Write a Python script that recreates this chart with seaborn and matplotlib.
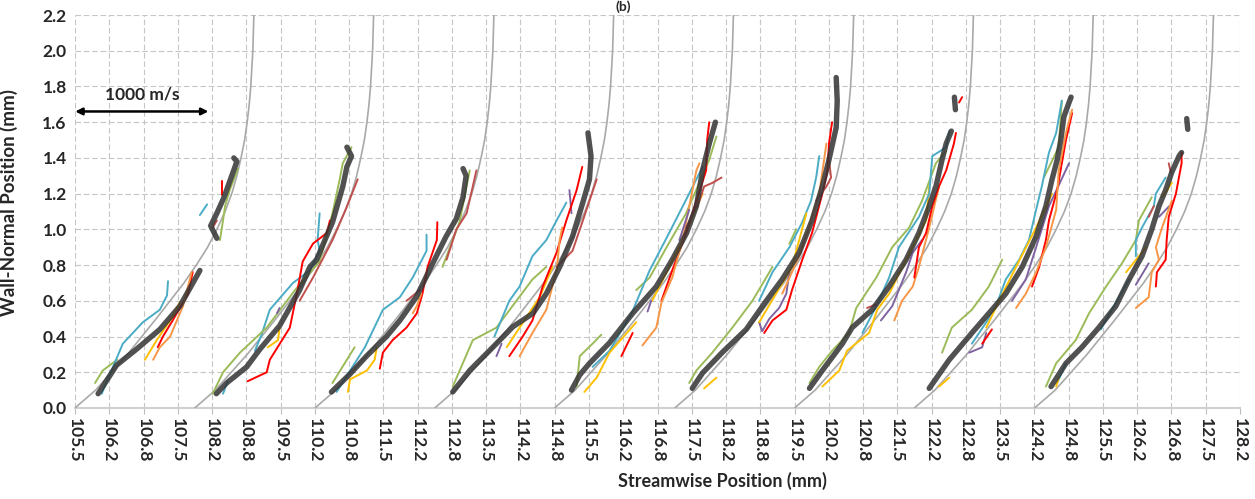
import numpy as np
import matplotlib
matplotlib.use("Agg")
import matplotlib.pyplot as plt
import seaborn as sns

# ---------------- data ----------------
# reference (gray) profile shape: offset from station base (mm) vs wall-normal (mm)
REF_Y = [0, 0.1, 0.3, 0.5, 0.7, 0.8, 0.9, 1.0, 1.1, 1.2, 1.3, 1.4, 1.5, 1.6, 1.7, 1.8, 2.0, 2.2]
REF_DX = [0, 0.40, 1.02, 1.58, 2.12, 2.36, 2.58, 2.76, 2.92, 3.05, 3.15, 3.23, 3.30, 3.35, 3.39, 3.42, 3.46, 3.48]
STATION_BASES = [105.5, 107.83, 110.17, 112.5, 114.83, 117.17, 119.5, 121.83, 124.17]

# mean (thick dark) profiles, each segment: (x list, y list)
MEAN_PROFILES = [
    ([105.95, 106.31, 106.70, 107.15, 107.54, 107.93], [0.08, 0.24, 0.33, 0.44, 0.57, 0.77]),
    ([108.26, 108.14, 108.26, 108.40, 108.55, 108.65, 108.59], [0.95, 1.02, 1.09, 1.18, 1.30, 1.38, 1.40]),
    ([108.25, 108.45, 108.84, 109.10, 109.48, 109.87, 110.07, 110.20, 110.51, 110.71, 110.79, 110.88, 110.79],
     [0.08, 0.14, 0.23, 0.33, 0.46, 0.66, 0.79, 0.83, 1.04, 1.24, 1.35, 1.41, 1.46]),
    ([110.49, 110.85, 111.17, 111.56, 111.82, 112.14, 112.46, 112.72, 112.92, 113.05, 113.11, 113.05],
     [0.09, 0.19, 0.29, 0.40, 0.49, 0.62, 0.81, 0.96, 1.06, 1.18, 1.30, 1.34]),
    ([112.85, 113.18, 113.63, 114.02, 114.41, 114.67, 114.93, 115.18, 115.38, 115.51, 115.54, 115.48],
     [0.09, 0.21, 0.34, 0.455, 0.53, 0.64, 0.79, 0.96, 1.15, 1.28, 1.41, 1.54]),
    ([115.16, 115.32, 115.51, 115.90, 116.35, 116.81, 117.12, 117.40, 117.59, 117.71, 117.84, 117.96],
     [0.10, 0.185, 0.25, 0.365, 0.53, 0.68, 0.83, 0.98, 1.13, 1.33, 1.48, 1.60]),
    ([117.51, 117.71, 118.09, 118.56, 118.95, 119.26, 119.59, 119.84, 120.04, 120.17, 120.31, 120.33, 120.31],
     [0.11, 0.196, 0.31, 0.44, 0.60, 0.72, 0.87, 1.05, 1.24, 1.39, 1.57, 1.72, 1.85]),
    ([119.79, 120.04, 120.43, 120.62, 121.01, 121.34, 121.67, 121.92, 122.12, 122.25, 122.37, 122.45, 122.55],
     [0.11, 0.21, 0.36, 0.45, 0.55, 0.68, 0.83, 0.98, 1.13, 1.24, 1.39, 1.48, 1.55]),
    ([122.61, 122.63], [1.74, 1.67]),
    ([122.12, 122.51, 122.95, 123.28, 123.61, 123.93, 124.20, 124.39, 124.51, 124.61, 124.68, 124.74, 124.84, 124.88],
     [0.11, 0.27, 0.42, 0.53, 0.64, 0.79, 0.96, 1.13, 1.28, 1.39, 1.50, 1.63, 1.71, 1.74]),
    ([124.49, 124.78, 125.09, 125.42, 125.75, 126.01, 126.26, 126.45, 126.59, 126.72, 126.84, 126.98, 127.03],
     [0.12, 0.25, 0.34, 0.45, 0.57, 0.72, 0.85, 1.00, 1.13, 1.22, 1.32, 1.41, 1.43]),
    ([127.13, 127.15], [1.62, 1.56]),
]

# individual realisations (thin coloured lines): (colour key, x list, y list)
ST1_TRACES = [
    ("green", [105.89, 106.04, 106.32], [0.14, 0.21, 0.27]),
    ("green", [108.32, 108.38, 108.42, 108.51, 108.67], [0.94, 1.05, 1.13, 1.22, 1.34]),
    ("blue", [106.02, 106.43, 106.82, 107.15, 107.29, 107.31], [0.08, 0.36, 0.48, 0.55, 0.63, 0.71]),
    ("blue", [107.93, 108.07], [1.08, 1.14]),
    ("red", [107.11, 107.21, 107.40, 107.70, 107.79], [0.34, 0.40, 0.49, 0.64, 0.76]),
    ("red", [108.36, 108.36], [1.19, 1.27]),
    ("orange", [107.02, 107.15, 107.35, 107.60, 107.77], [0.27, 0.34, 0.40, 0.57, 0.76]),
    ("yellow", [106.86, 107.09, 107.35, 107.54], [0.27, 0.38, 0.49, 0.59]),
    ("darkred", [108.18, 108.26], [1.01, 1.05]),
]
ST2_TRACES = [
    ("blue", [108.38, 108.47], [0.08, 0.15]),
    ("blue", [109.00, 109.13, 109.29, 109.74, 110.07, 110.26, 110.22, 110.26], [0.32, 0.41, 0.55, 0.70, 0.77, 0.88, 0.94, 1.09]),
    ("green", [108.18, 108.38, 108.71, 109.23, 109.78, 110.26, 110.51, 110.65, 110.71, 110.88],
     [0.08, 0.20, 0.31, 0.45, 0.66, 0.82, 1.09, 1.28, 1.37, 1.46]),
    ("red", [108.86, 109.23, 109.29, 109.68, 109.83, 109.93, 110.13, 110.40, 110.46],
     [0.15, 0.20, 0.27, 0.45, 0.66, 0.82, 0.92, 0.98, 1.05]),
    ("yellow", [109.25, 109.45, 109.48], [0.34, 0.38, 0.45]),
    ("purple", [109.43, 109.48], [0.53, 0.56]),
    ("darkred", [109.87, 110.13, 110.51, 110.78, 111.00], [0.60, 0.73, 0.94, 1.12, 1.28]),
]
ST3_TRACES = [
    ("blue", [110.59, 111.14, 111.49, 111.82, 112.07, 112.34, 112.34], [0.09, 0.34, 0.55, 0.62, 0.73, 0.88, 0.97]),
    ("green", [110.51, 110.94], [0.14, 0.34]),
    ("green", [112.65, 112.98, 113.18], [0.79, 1.04, 1.33]),
    ("yellow", [110.81, 110.85, 111.18, 111.33, 111.37], [0.09, 0.16, 0.21, 0.27, 0.34]),
    ("red", [111.43, 111.49, 111.68, 111.95, 112.15, 112.26, 112.36, 112.54, 112.55],
     [0.22, 0.31, 0.38, 0.45, 0.53, 0.64, 0.79, 0.94, 1.04]),
    ("orange", [112.07, 112.15, 112.24], [0.53, 0.57, 0.64]),
    ("darkred", [111.95, 112.21], [0.60, 0.66]),
    ("darkred", [112.73, 112.92, 113.12, 113.31], [0.83, 1.00, 1.09, 1.33]),
]
ST4_TRACES = [
    ("green", [112.85, 113.24, 113.70, 114.01, 114.40, 114.67], [0.12, 0.38, 0.45, 0.57, 0.72, 0.79]),
    ("blue", [113.66, 113.95, 114.15, 114.40, 114.67, 114.87, 115.06], [0.40, 0.60, 0.68, 0.85, 0.94, 1.05, 1.15]),
    ("purple", [113.70, 113.80], [0.29, 0.36]),
    ("purple", [115.12, 115.16], [1.22, 1.09]),
    ("yellow", [113.90, 114.15, 114.54, 114.79], [0.34, 0.45, 0.62, 0.79]),
    ("red", [113.95, 114.21, 114.40, 114.60, 114.87, 115.06, 115.26, 115.37],
     [0.29, 0.40, 0.49, 0.68, 0.87, 1.05, 1.22, 1.35]),
    ("orange", [114.15, 114.40, 114.67, 114.87, 114.93, 114.98], [0.29, 0.42, 0.55, 0.77, 0.94, 1.01]),
    ("darkred", [114.87, 115.18, 115.37, 115.65], [0.79, 0.88, 1.04, 1.28]),
]
ST5_TRACES = [
    ("green", [115.26, 115.32, 115.57, 115.74], [0.12, 0.29, 0.36, 0.41]),
    ("green", [116.42, 116.68, 117.01, 117.39, 117.84, 117.98], [0.66, 0.73, 0.90, 1.09, 1.39, 1.52]),
    ("blue", [115.57, 115.90, 116.33, 116.68, 117.06, 117.45, 117.71], [0.23, 0.32, 0.53, 0.77, 0.98, 1.20, 1.35]),
    ("yellow", [115.41, 115.65, 115.90, 116.42], [0.09, 0.17, 0.31, 0.48]),
    ("yellow", [116.73, 117.01, 117.32, 117.71], [0.60, 0.76, 0.94, 1.20]),
    ("red", [116.13, 116.35], [0.29, 0.42]),
    ("red", [116.91, 117.12, 117.39, 117.59, 117.78, 117.80, 117.84], [0.60, 0.77, 0.98, 1.16, 1.33, 1.50, 1.60]),
    ("orange", [116.54, 116.81, 116.91, 117.12, 117.32, 117.59, 117.65], [0.35, 0.45, 0.59, 0.73, 0.94, 1.33, 1.37]),
    ("purple", [116.64, 116.71], [0.54, 0.60]),
    ("purple", [117.26, 117.45], [0.94, 1.11]),
    ("darkred", [117.39, 117.65, 117.74, 117.90, 118.08], [1.01, 1.16, 1.24, 1.26, 1.29]),
]
ST6_TRACES = [
    ("green", [117.45, 117.59, 117.90, 118.29, 118.68, 119.01, 119.07], [0.14, 0.21, 0.31, 0.45, 0.60, 0.76, 0.79]),
    ("green", [119.40, 119.53], [0.92, 1.00]),
    ("blue", [118.81, 119.07, 119.40, 119.65, 119.82, 119.92, 119.98], [0.60, 0.76, 0.90, 1.04, 1.16, 1.29, 1.41]),
    ("purple", [118.81, 118.87, 119.01, 119.20, 119.34, 119.40], [0.48, 0.43, 0.50, 0.56, 0.64, 0.76]),
    ("red", [118.91, 119.07, 119.34, 119.45, 119.65, 119.84, 120.04, 120.14, 120.17, 120.23],
     [0.42, 0.49, 0.55, 0.66, 0.83, 0.98, 1.20, 1.33, 1.48, 1.60]),
    ("yellow", [118.81, 119.14, 119.45, 119.73], [0.48, 0.64, 0.79, 1.09]),
    ("yellow", [117.74, 117.98], [0.11, 0.17]),
    ("orange", [119.26, 119.59, 119.78, 119.98, 120.12], [0.64, 0.85, 1.01, 1.20, 1.48]),
    ("darkred", [119.92, 120.12, 120.21, 120.17], [1.16, 1.24, 1.29, 1.39]),
]
ST7_TRACES = [
    ("green", [119.79, 119.98, 120.23, 120.56, 120.70, 121.09, 121.40, 121.73, 121.98, 122.25, 122.45],
     [0.14, 0.23, 0.32, 0.42, 0.56, 0.73, 0.90, 1.01, 1.16, 1.37, 1.44]),
    ("yellow", [120.04, 120.37, 120.52, 120.95, 121.11, 121.34, 121.67, 122.06, 122.12],
     [0.12, 0.21, 0.32, 0.42, 0.55, 0.64, 0.83, 1.05, 1.24]),
    ("blue", [120.82, 121.09, 121.34, 121.53, 121.92, 122.12, 122.18, 122.45, 122.51],
     [0.42, 0.57, 0.73, 0.90, 1.07, 1.20, 1.41, 1.46, 1.55]),
    ("purple", [121.18, 121.40, 121.67, 121.80, 121.98], [0.49, 0.57, 0.76, 0.87, 0.94]),
    ("orange", [121.44, 121.59, 121.80, 121.92, 122.12, 122.31], [0.49, 0.60, 0.68, 0.79, 1.01, 1.24]),
    ("red", [121.83, 121.92, 122.06, 122.18, 122.31, 122.45, 122.60, 122.64],
     [0.73, 0.90, 0.98, 1.13, 1.24, 1.33, 1.48, 1.54]),
    ("red", [122.70, 122.76], [1.71, 1.74]),
    ("darkred", [120.91, 121.09], [0.56, 0.58]),
]
ST8_TRACES = [
    ("green", [122.37, 122.56, 122.95, 123.28, 123.54], [0.31, 0.45, 0.55, 0.68, 0.83]),
    ("green", [124.35, 124.64, 124.70], [1.29, 1.46, 1.72]),
    ("blue", [122.95, 123.23, 123.42, 123.61, 123.87, 124.06, 124.20, 124.31, 124.45, 124.59, 124.70],
     [0.36, 0.48, 0.57, 0.72, 0.83, 0.94, 1.11, 1.24, 1.43, 1.54, 1.72]),
    ("purple", [122.90, 123.15, 123.23], [0.31, 0.34, 0.42]),
    ("purple", [123.73, 124.00, 124.20, 124.45, 124.84], [0.60, 0.72, 0.90, 1.13, 1.37]),
    ("red", [123.15, 123.34], [0.36, 0.44]),
    ("red", [124.12, 124.26, 124.39, 124.45, 124.61, 124.70, 124.78, 124.90],
     [0.68, 0.79, 0.94, 1.05, 1.22, 1.37, 1.50, 1.65]),
    ("yellow", [122.31, 122.51], [0.12, 0.17]),
    ("yellow", [123.23, 123.48, 123.81, 124.20, 124.51], [0.45, 0.60, 0.79, 1.01, 1.20]),
    ("orange", [123.81, 124.00, 124.20, 124.39, 124.59, 124.64, 124.78, 124.90],
     [0.56, 0.64, 0.76, 0.90, 1.11, 1.33, 1.54, 1.67]),
]
ST9_TRACES = [
    ("green", [124.39, 124.59, 124.97, 125.23, 125.56, 125.87, 126.14, 126.20, 126.45],
     [0.12, 0.25, 0.38, 0.53, 0.68, 0.81, 0.94, 1.05, 1.18]),
    ("blue", [124.61, 124.78], [0.14, 0.25]),
    ("blue", [125.46, 125.75, 126.01], [0.44, 0.59, 0.72]),
    ("blue", [126.14, 126.14, 126.26, 126.49, 126.53, 126.72], [0.85, 0.94, 1.01, 1.13, 1.20, 1.29]),
    ("yellow", [124.59, 124.64], [0.12, 0.17]),
    ("yellow", [125.95, 126.20, 126.34], [0.76, 0.85, 0.90]),
    ("yellow", [126.65, 126.84], [1.18, 1.26]),
    ("purple", [126.14, 126.39], [0.69, 0.81]),
    ("purple", [126.59, 126.79], [1.07, 1.13]),
    ("orange", [126.14, 126.39, 126.45, 126.59, 126.53, 126.65, 126.84], [0.56, 0.62, 0.76, 0.83, 0.90, 1.01, 1.16]),
    ("red", [126.53, 126.55, 126.72, 126.74, 126.78, 126.92, 127.03, 127.03],
     [0.68, 0.76, 0.83, 0.94, 1.07, 1.20, 1.37, 1.43]),
    ("darkred", [126.39, 126.49], [1.07, 1.13]),
    ("darkred", [126.78, 126.82], [1.37, 1.32]),
]
ALL_TRACES = (ST1_TRACES + ST2_TRACES + ST3_TRACES + ST4_TRACES + ST5_TRACES +
              ST6_TRACES + ST7_TRACES + ST8_TRACES + ST9_TRACES)

COLORS = {"blue": "#4BACC6", "green": "#9BBB59", "red": "#FF0000", "orange": "#F79646",
          "yellow": "#FFC000", "purple": "#8064A2", "darkred": "#C0504D"}

Y_TICKS = [0.0, 0.2, 0.4, 0.6, 0.8, 1.0, 1.2, 1.4, 1.6, 1.8, 2.0, 2.2]
X_TICK_LABELS = ["105.5", "106.2", "106.8", "107.5", "108.2", "108.8", "109.5", "110.2", "110.8",
                 "111.5", "112.2", "112.8", "113.5", "114.2", "114.8", "115.5", "116.2", "116.8",
                 "117.5", "118.2", "118.8", "119.5", "120.2", "120.8", "121.5", "122.2", "122.8",
                 "123.5", "124.2", "124.8", "125.5", "126.2", "126.8", "127.5", "128.2"]
VEL_SCALE_LABEL = "1000 m/s"
VEL_ARROW_X = [105.45, 108.15]
VEL_ARROW_Y = 1.66

# ---------------- plotting ----------------
sns.set_theme(style="white")
plt.rcParams["font.family"] = ["Lato", "DejaVu Sans"]

W, H = 1255, 499
fig = plt.figure(figsize=(W / 100, H / 100), dpi=100)
ax = fig.add_axes([75 / W, 1 - 408 / H, (1240 - 75) / W, (408 - 15) / H])

x_min, x_max = 105.5, 105.5 + 34 * 2 / 3
ax.set_xlim(x_min, x_max)
ax.set_ylim(0, 2.2)

# reference profiles
for base in STATION_BASES:
    sns.lineplot(x=[base + d for d in REF_DX], y=REF_Y, sort=False, estimator=None,
                 color="#a9a9a9", lw=1.2, ax=ax, legend=False, zorder=3)

# thin coloured realisations
for ckey, xs, ys in ALL_TRACES:
    sns.lineplot(x=xs, y=ys, sort=False, estimator=None, color=COLORS[ckey],
                 lw=1.4, ax=ax, legend=False, zorder=4)

# thick mean profiles
for xs, ys in MEAN_PROFILES:
    sns.lineplot(x=xs, y=ys, sort=False, estimator=None, color="#333333", alpha=0.85,
                 lw=3.9, ax=ax, legend=False, zorder=5, solid_capstyle="round")

# axes styling
xt = np.linspace(x_min, x_max, len(X_TICK_LABELS))
ax.set_xticks(xt)
ax.set_xticklabels(X_TICK_LABELS, rotation=-90, fontsize=12.5, fontweight="bold")
ax.set_yticks(Y_TICKS)
ax.set_yticklabels([f"{v:.1f}" for v in Y_TICKS], fontsize=12.5, fontweight="bold")
ax.grid(True, color="#c6c6c6", lw=0.8, ls=(0, (5, 2.5)))
for s in ["left", "top", "right"]:
    ax.spines[s].set_visible(False)
ax.spines["bottom"].set_color("#d0d0d0")
ax.spines["bottom"].set_linewidth(1.5)
ax.tick_params(axis="x", length=4, color="#bdbdbd", width=0.8, pad=3, direction="out", bottom=True)
ax.tick_params(axis="y", length=0, pad=6)

ax.set_xlabel("Streamwise Position (mm)", fontsize=13, fontweight="bold")
ax.xaxis.set_label_coords((722 - 75) / 1165, (408 - 472) / 393)
ax.set_ylabel("Wall-Normal Position (mm)", fontsize=13.5, fontweight="bold")
ax.yaxis.set_label_coords((18 - 75) / 1165, (408 - 203) / 393)

# velocity scale arrow
ax.annotate("", xy=(VEL_ARROW_X[0], VEL_ARROW_Y), xytext=(VEL_ARROW_X[1], VEL_ARROW_Y),
            arrowprops=dict(arrowstyle="<|-|>", lw=1.8, color="black", mutation_scale=10),
            annotation_clip=False)
ax.text(sum(VEL_ARROW_X) / 2, VEL_ARROW_Y + 0.095, VEL_SCALE_LABEL, ha="center", va="center",
        fontsize=12.5, fontweight="bold")

fig.text(623 / W, 0.999, "(b)", ha="center", va="top", fontsize=10, fontweight="bold")

fig.savefig("out.png", dpi=100)
